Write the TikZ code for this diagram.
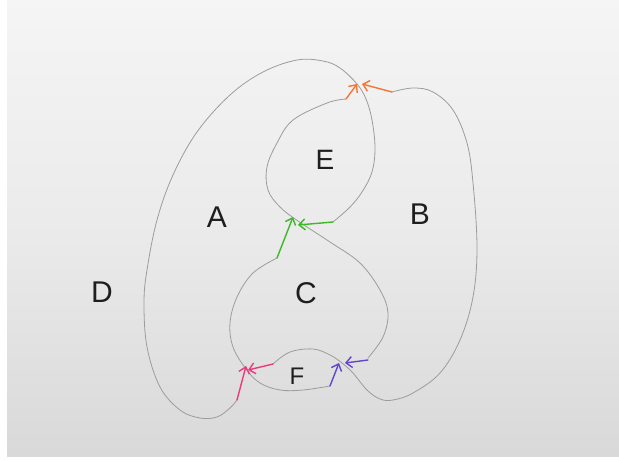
\documentclass[tikz,border=0pt]{standalone}
\usepackage{fontspec}
\setmainfont{Liberation Sans}
\usetikzlibrary{arrows.meta}
\definecolor{pen}{HTML}{9C9C9C}
\definecolor{ink}{HTML}{1E1E1E}
\definecolor{orng}{HTML}{F47536}
\definecolor{grn}{HTML}{3CB828}
\definecolor{pnk}{HTML}{EC3A7C}
\definecolor{prpl}{HTML}{6445D0}
\tikzset{
  curve/.style={draw=pen, line width=0.8pt, line cap=round, line join=round},
  arr/.style={line width=1.4pt, line cap=round, -{Straight Barb[length=6pt,width=11pt]}},
  lbl/.style={text=ink, font=\fontsize{30}{30}\selectfont, inner sep=0pt}
}
\begin{document}
\begin{tikzpicture}[x=1pt,y=-1pt]
\useasboundingbox (0,0) rectangle (619,461);
\fill[white] (0,0) rectangle (619,461);
\shade[top color=white!96!black, bottom color=white!85!black, middle color=white!92!black] (7,0) rectangle (619,456);

% named points
\coordinate (vtop) at (357,84);
\coordinate (vmid) at (298,221);
\coordinate (vpink) at (246,369);
\coordinate (vpur) at (342,363);
\coordinate (o1) at (346,99);
\coordinate (o2) at (392,92);
\coordinate (g1) at (333,222);
\coordinate (g2) at (277,258);
\coordinate (p1) at (237,400);
\coordinate (p2) at (273,364);
\coordinate (u1) at (330,386);
\coordinate (u2) at (368,360);

% curve 1: outer A loop through top vertex, down right side of E
\draw[curve] plot[smooth, tension=0.6] coordinates {(237,400) (230,408) (217,417) (200,418) (180,410) (160,387) (147,347) (144,303) (147,270) (157,220) (173,175) (197,132) (230,95) (263,72) (297,60) (323,61) (340,68) (357,84) (366,99) (372,120) (375,148) (372,172) (362,192) (350,207) (333,222)};
% curve 2: left side of E, through middle vertex, right side of C
\draw[curve] plot[smooth, tension=0.6] coordinates {(346,99) (327,103) (293,120) (277,143) (267,167) (268,190) (280,207) (298,221) (330,242) (360,263) (380,290) (388,313) (383,337) (368,358)};
% curve 3: left side of C, through pink vertex, bottom of F
\draw[curve] plot[smooth, tension=0.6] coordinates {(277,258) (253,273) (237,297) (230,323) (233,347) (246,369) (260,383) (280,390) (303,390) (330,386)};
% curve 4: top of F, through purple vertex, loop B
\draw[curve] plot[smooth, tension=0.6] coordinates {(273,364) (290,352) (313,349) (330,355) (342,363) (353,373) (367,390) (380,399) (393,400) (413,393) (440,373) (460,340) (473,297) (477,247) (473,183) (467,143) (453,110) (433,92) (413,88) (392,92)};

% arrows
\draw[arr, orng] (o1) -- (vtop);
\draw[arr, orng] (o2) -- ([xshift=5pt]vtop);
\draw[arr, grn] (g1) -- ([yshift=-4pt]vmid);
\draw[arr, grn] (g2) -- ([xshift=-5pt,yshift=4pt]vmid);
\draw[arr, pnk] (p1) -- ([yshift=3pt]vpink);
\draw[arr, pnk] (p2) -- ([xshift=2pt,yshift=-1pt]vpink);
\draw[arr, prpl] (u1) -- ([xshift=-3pt]vpur);
\draw[arr, prpl] (u2) -- ([xshift=3pt]vpur);

% labels
\node[lbl] (A) at (217,217) {A};
\node[lbl] (B) at (420,214) {B};
\node[lbl] (C) at (306,293) {C};
\node[lbl] (D) at (102,292) {D};
\node[lbl, font=\fontsize{28}{28}\selectfont] (E) at (325,160) {E};
\node[lbl, font=\fontsize{24}{24}\selectfont] (F) at (297,376) {F};
\end{tikzpicture}
\end{document}
